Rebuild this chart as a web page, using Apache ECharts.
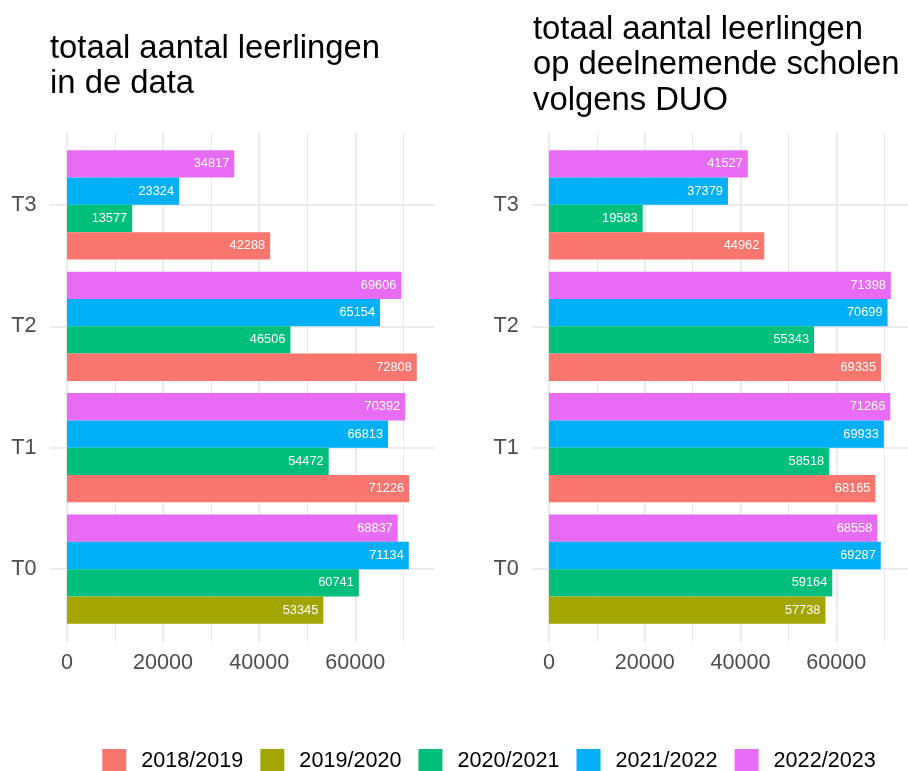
<!DOCTYPE html>
<html>
<head>
<meta charset="utf-8">
<script src="https://cdn.jsdelivr.net/npm/echarts@6/dist/echarts.min.js"></script>
<style>
html,body{margin:0;padding:0;background:#fff;}
#chart{width:908px;height:771px;}
</style>
</head>
<body>
<div id="chart"></div>
<script>
// ---- data ----
const categories = ['T0', 'T1', 'T2', 'T3'];
const seasons = ['2018/2019', '2019/2020', '2020/2021', '2021/2022', '2022/2023'];
const colors = ['#F8766D', '#A3A500', '#00BF7D', '#00B0F6', '#E76BF3'];

const titleLeft = 'totaal aantal leerlingen\nin de data';
const titleRight = 'totaal aantal leerlingen\nop deelnemende scholen\nvolgens DUO';

// left panel: in de data
const data2018 = [null, 71226, 72808, 42288];
const data2019 = [53345, null, null, null];
const data2020 = [60741, 54472, 46506, 13577];
const data2021 = [71134, 66813, 65154, 23324];
const data2022 = [68837, 70392, 69606, 34817];

// right panel: volgens DUO
const duo2018 = [null, 68165, 69335, 44962];
const duo2019 = [57738, null, null, null];
const duo2020 = [59164, 58518, 55343, 19583];
const duo2021 = [69287, 69933, 70699, 37379];
const duo2022 = [68558, 71266, 71398, 41527];

const leftSeries = [data2018, data2019, data2020, data2021, data2022];
const rightSeries = [duo2018, duo2019, duo2020, duo2021, duo2022];

// ---- layout ----
const FONT = '"Liberation Sans", Arial, Helvetica, sans-serif';
const GRID_COLOR = '#EBEBEB';
const panels = [
  { left: 49.5, width: 384.8, series: leftSeries, stack: 'L' },
  { left: 531.8, width: 386.0, series: rightSeries, stack: 'R' }
];
const plotTop = 132, plotBottom = 642;
const unit = (plotBottom - plotTop) / 4.2;
const catTop = plotTop + 0.6 * unit;
const catHeight = 3 * unit;

function maxOf(arrs) {
  let m = 0;
  arrs.forEach(a => a.forEach(v => { if (v != null && v > m) m = v; }));
  return m;
}

const grid = [], xAxis = [], yAxis = [], series = [];
panels.forEach((p, pi) => {
  const mx = maxOf(p.series);
  const xmin = -0.05 * mx, xmax = 1.05 * mx;
  grid.push({ left: p.left, width: p.width, top: plotTop, height: plotBottom - plotTop, containLabel: false });
  grid.push({ left: p.left, width: p.width, top: catTop, height: catHeight, containLabel: false });
  const gBg = pi * 2, gBar = pi * 2 + 1;
  xAxis.push({
    type: 'value', gridIndex: gBg, min: xmin, max: xmax,
    axisLine: { show: false }, axisTick: { show: false },
    axisLabel: { show: true, showMinLabel: false, showMaxLabel: false, margin: 10,
      fontSize: 21.6, color: '#4D4D4D', fontFamily: FONT,
      formatter: v => String(v) },
    splitLine: { show: true, showMinLine: false, showMaxLine: false, lineStyle: { color: GRID_COLOR, width: 2 } },
    minorTick: { show: false, splitNumber: 2 },
    minorSplitLine: { show: true, lineStyle: { color: GRID_COLOR, width: 1.2 } }
  });
  xAxis.push({ type: 'value', gridIndex: gBar, min: xmin, max: xmax, show: false });
  yAxis.push({ type: 'value', gridIndex: gBg, show: false });
  yAxis.push({
    type: 'category', gridIndex: gBar, data: categories, boundaryGap: false,
    axisLine: { show: false }, axisTick: { show: false },
    axisLabel: { margin: 13, fontSize: 21.6, color: '#4D4D4D', fontFamily: FONT },
    splitLine: { show: true, lineStyle: { color: GRID_COLOR, width: 2 } }
  });
  // series added top-to-bottom: 2022/2023 at top, 2018/2019 + 2019/2020 share the bottom slot
  for (let si = p.series.length - 1; si >= 0; si--) {
    series.push({
      type: 'bar', name: seasons[si], xAxisIndex: gBar, yAxisIndex: gBar,
      data: p.series[si], clip: false,
      stack: si < 2 ? p.stack : undefined,
      barCategoryGap: '10%', barGap: '0%',
      itemStyle: { color: colors[si] },
      label: { show: true, position: 'insideRight', distance: 5, color: '#FFFFFF',
        fontSize: 12.8, fontFamily: FONT },
      emphasis: { disabled: true },
      animation: false
    });
  }
});

const option = {
  animation: false,
  backgroundColor: '#FFFFFF',
  textStyle: { fontFamily: FONT },
  title: [
    { text: titleLeft, left: 50, top: 31, padding: 0,
      textStyle: { fontSize: 32.8, lineHeight: 35.4, fontWeight: 'normal', color: '#000000', fontFamily: FONT } },
    { text: titleRight, left: 533, top: 12, padding: 0,
      textStyle: { fontSize: 32.8, lineHeight: 35.4, fontWeight: 'normal', color: '#000000', fontFamily: FONT } }
  ],
  legend: {
    data: seasons, left: 102.3, top: 749, padding: 0,
    orient: 'horizontal', icon: 'rect', itemWidth: 24, itemHeight: 24, itemGap: 17,
    textStyle: { fontSize: 21.6, color: '#000000', fontFamily: FONT, padding: [0, 0, 0, 10] },
    selectedMode: false
  },
  color: colors,
  grid: grid, xAxis: xAxis, yAxis: yAxis, series: series
};

const chart = echarts.init(document.getElementById('chart'), null, { renderer: 'canvas' });
chart.setOption(option);
</script>
</body>
</html>
